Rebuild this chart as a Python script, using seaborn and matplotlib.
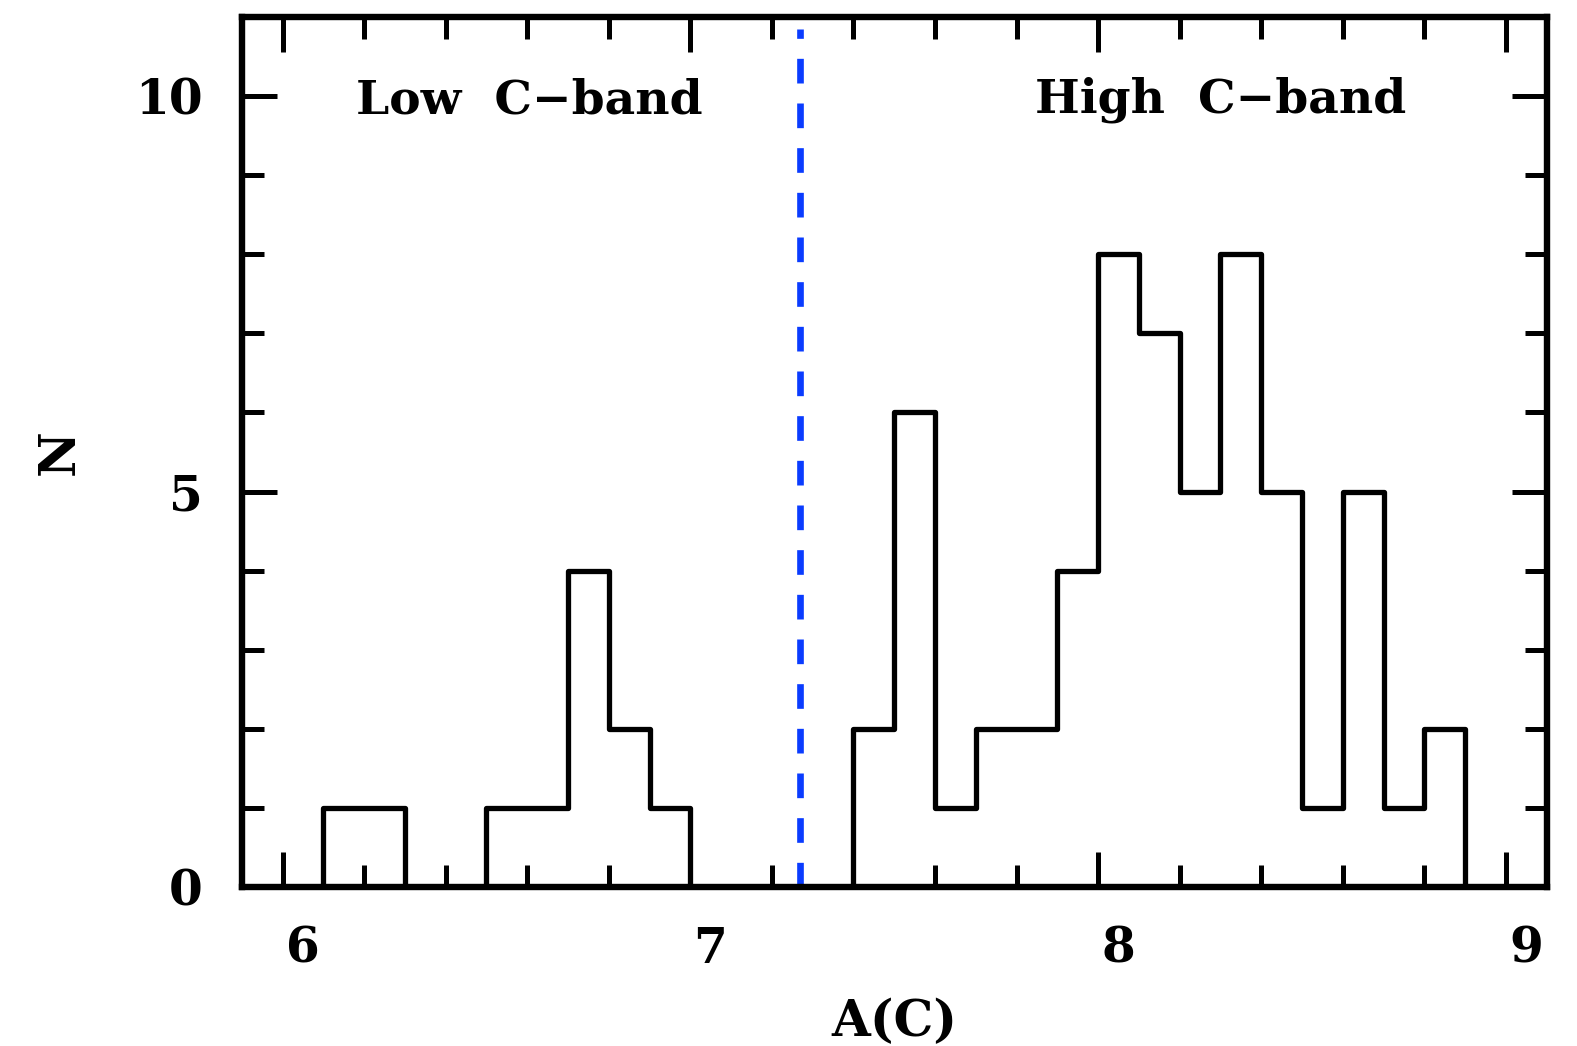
import numpy as np
import pandas as pd
import seaborn as sns
import matplotlib
matplotlib.use("Agg")
import matplotlib.pyplot as plt
from matplotlib.transforms import ScaledTranslation
from matplotlib.ticker import MultipleLocator

# Data: bin centres (A(C)) and counts per 0.1-dex bin
bin_centers = [6.15, 6.25, 6.55, 6.65, 6.75, 6.85, 6.95,
               7.45, 7.55, 7.65, 7.75, 7.85, 7.95, 8.05, 8.15,
               8.25, 8.35, 8.45, 8.55, 8.65, 8.75, 8.85]
counts = [1, 1, 1, 1, 4, 2, 1,
          2, 6, 1, 2, 2, 4, 8, 7,
          5, 8, 5, 1, 5, 1, 2]
bin_width = 0.1
bin_range = (5.9, 9.1)
divider_x = 7.27
x_limits = (5.9, 9.1)
y_limits = (0, 11)
x_ticks = [6, 7, 8, 9]
y_ticks = [0, 5, 10]
label_low = "Low  C\u2212band"
label_high = "High  C\u2212band"

df = pd.DataFrame({"AC": bin_centers, "N": counts})

sns.set_theme(style="white")
plt.rcParams["font.family"] = ["DejaVu Serif"]
plt.rcParams["font.weight"] = "bold"
plt.rcParams["text.color"] = "black"
plt.rcParams["axes.labelcolor"] = "black"
plt.rcParams["xtick.color"] = "black"
plt.rcParams["ytick.color"] = "black"

fig = plt.figure(figsize=(15.77, 10.46), dpi=100)
ax = fig.add_axes([0.1533, 0.152, 0.8275, 0.8317])

sns.histplot(data=df, x="AC", weights="N", binwidth=bin_width,
             binrange=bin_range, element="step",
             fill=False, color="black", linewidth=3.8, ax=ax)

ax.plot([divider_x, divider_x], [0, 10.85], color="#0a3cff", lw=4.8,
        linestyle=(0, (3.7, 3.0)))

ax.set_xlim(*x_limits)
ax.set_ylim(*y_limits)
ax.set_xticks(x_ticks)
ax.set_yticks(y_ticks)
ax.xaxis.set_minor_locator(MultipleLocator(0.2))
ax.yaxis.set_minor_locator(MultipleLocator(1))
ax.tick_params(which="both", direction="in", top=True, right=True,
               bottom=True, left=True, width=3.6, color="black",
               labelcolor="black")
ax.tick_params(which="major", length=25, labelsize=35, pad=28)
ax.tick_params(which="minor", length=16)
for s in ax.spines.values():
    s.set_linewidth(4.6)
    s.set_color("black")

offset = ScaledTranslation(20 / 100, 0, fig.dpi_scale_trans)
for lab in ax.get_xticklabels():
    lab.set_transform(lab.get_transform() + offset)
    lab.set_fontweight("bold")
for lab in ax.get_yticklabels():
    lab.set_fontweight("bold")

ax.set_xlabel("A(C)", fontsize=36, fontweight="bold", labelpad=18,
              color="black")
ax.set_ylabel("N", fontsize=36, fontweight="bold", labelpad=36,
              color="black")

ax.text(6.604, 9.95, label_low, ha="center", va="center", fontsize=34,
        fontweight="bold", color="black")
ax.text(8.30, 9.95, label_high, ha="center", va="center", fontsize=34,
        fontweight="bold", color="black")

fig.savefig("out.png", dpi=100)
